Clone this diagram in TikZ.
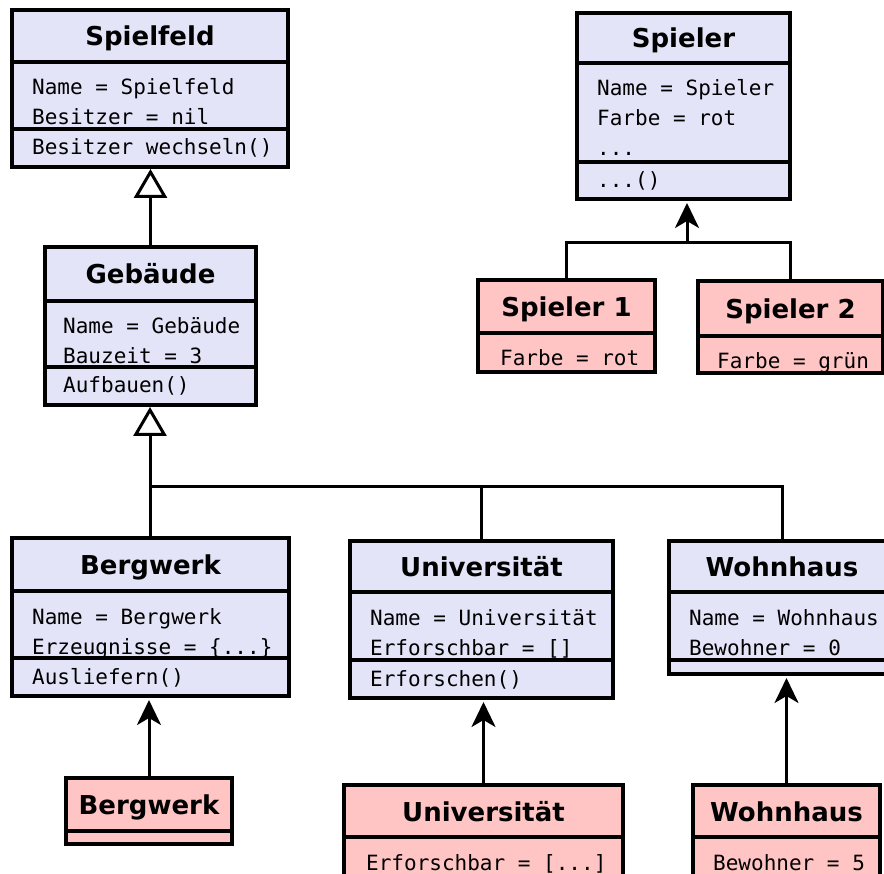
\documentclass[tikz,border=0pt]{standalone}
\usepackage{fontspec}
\usetikzlibrary{positioning, arrows.meta}
\newfontfamily\headfont{DejaVu Sans}
\newfontfamily\codefont{DejaVu Sans Mono}
\definecolor{classblue}{RGB}{228,228,248}
\definecolor{objpink}{RGB}{255,196,196}

\begin{document}
\begin{tikzpicture}[x=1pt, y=-1pt,
  part/.style = {draw, line width=3.5pt, inner sep=0pt, outer sep=0pt, anchor=north west},
  cls/.style = {part, fill=classblue},
  obj/.style = {part, fill=objpink},
  head/.style = {font=\headfont\bfseries\fontsize{26}{30}\selectfont, text height=20pt, text depth=0pt},
  member/.style = {font=\codefont\fontsize{21}{25}\selectfont, inner sep=0pt, anchor=base west},
  link/.style = {line width=3pt},
  inherit/.style = {link, -{Triangle[open, length=29pt, width=33pt]}, shorten >=2pt},
  instance/.style = {link, -{Stealth[length=25pt, width=24pt, inset=7pt]}, shorten >=4pt}]
\useasboundingbox (0,0) rectangle (884,874);
\clip (0,0) rectangle (884,874);

\node[cls, head, minimum width=276pt, minimum height=52pt] (spielfeld) at (12,10) {Spielfeld};
\node[cls, minimum width=276pt, minimum height=67pt, below=0pt of spielfeld] (spielfeld-attr) {};
\node[cls, minimum width=276pt, minimum height=38pt, below=0pt of spielfeld-attr] (spielfeld-op) {};
\node[member] (spielfeld-a1) at ([shift={(20,33)}]spielfeld-attr.north west) {Name = Spielfeld};
\node[member] (spielfeld-a2) at ([shift={(20,63)}]spielfeld-attr.north west) {Besitzer = nil};
\node[member] (spielfeld-m1) at ([shift={(20,26)}]spielfeld-op.north west) {Besitzer wechseln()};

\node[cls, head, minimum width=211pt, minimum height=54pt] (gebaeude) at (45,247) {Gebäude};
\node[cls, minimum width=211pt, minimum height=66pt, below=0pt of gebaeude] (gebaeude-attr) {};
\node[cls, minimum width=211pt, minimum height=38pt, below=0pt of gebaeude-attr] (gebaeude-op) {};
\node[member] (gebaeude-a1) at ([shift={(18,33)}]gebaeude-attr.north west) {Name = Gebäude};
\node[member] (gebaeude-a2) at ([shift={(18,63)}]gebaeude-attr.north west) {Bauzeit = 3};
\node[member] (gebaeude-m1) at ([shift={(18,26)}]gebaeude-op.north west) {Aufbauen()};

\node[cls, head, minimum width=277pt, minimum height=53pt] (bergwerk) at (12,538) {Bergwerk};
\node[cls, minimum width=277pt, minimum height=67pt, below=0pt of bergwerk] (bergwerk-attr) {};
\node[cls, minimum width=277pt, minimum height=38pt, below=0pt of bergwerk-attr] (bergwerk-op) {};
\node[member] (bergwerk-a1) at ([shift={(20,33)}]bergwerk-attr.north west) {Name = Bergwerk};
\node[member] (bergwerk-a2) at ([shift={(20,63)}]bergwerk-attr.north west) {Erzeugnisse = \{...\}};
\node[member] (bergwerk-m1) at ([shift={(20,26)}]bergwerk-op.north west) {Ausliefern()};

\node[cls, head, minimum width=263pt, minimum height=51pt] (universitaet) at (350,541) {Universität};
\node[cls, minimum width=263pt, minimum height=68pt, below=0pt of universitaet] (universitaet-attr) {};
\node[cls, minimum width=263pt, minimum height=38pt, below=0pt of universitaet-attr] (universitaet-op) {};
\node[member] (universitaet-a1) at ([shift={(20,33)}]universitaet-attr.north west) {Name = Universität};
\node[member] (universitaet-a2) at ([shift={(20,63)}]universitaet-attr.north west) {Erforschbar = []};
\node[member] (universitaet-m1) at ([shift={(20,26)}]universitaet-op.north west) {Erforschen()};

\node[cls, head, minimum width=226pt, minimum height=51pt] (wohnhaus) at (669,541) {Wohnhaus};
\node[cls, minimum width=226pt, minimum height=68pt, below=0pt of wohnhaus] (wohnhaus-attr) {};
\node[cls, minimum width=226pt, minimum height=14pt, below=0pt of wohnhaus-attr] (wohnhaus-op) {};
\node[member] (wohnhaus-a1) at ([shift={(20,33)}]wohnhaus-attr.north west) {Name = Wohnhaus};
\node[member] (wohnhaus-a2) at ([shift={(20,63)}]wohnhaus-attr.north west) {Bewohner = 0};

\node[cls, head, minimum width=213pt, minimum height=50pt] (spieler) at (577,13) {Spieler};
\node[cls, minimum width=213pt, minimum height=99pt, below=0pt of spieler] (spieler-attr) {};
\node[cls, minimum width=213pt, minimum height=37pt, below=0pt of spieler-attr] (spieler-op) {};
\node[member] (spieler-a1) at ([shift={(20,33)}]spieler-attr.north west) {Name = Spieler};
\node[member] (spieler-a2) at ([shift={(20,63)}]spieler-attr.north west) {Farbe = rot};
\node[member] (spieler-a3) at ([shift={(20,93)}]spieler-attr.north west) {...};
\node[member] (spieler-m1) at ([shift={(20,26)}]spieler-op.north west) {...()};

\node[obj, head, minimum width=177pt, minimum height=53pt] (spieler1) at (478,280) {Spieler 1};
\node[obj, minimum width=177pt, minimum height=39pt, below=0pt of spieler1] (spieler1-attr) {};
\node[member] (spieler1-a1) at ([shift={(22,33)}]spieler1-attr.north west) {Farbe = rot};

\node[obj, head, minimum width=185pt, minimum height=55pt] (spieler2) at (698,281) {Spieler 2};
\node[obj, minimum width=185pt, minimum height=37pt, below=0pt of spieler2] (spieler2-attr) {};
\node[member] (spieler2-a1) at ([shift={(19,33)}]spieler2-attr.north west) {Farbe = grün};

\node[obj, head, minimum width=166pt, minimum height=53pt] (bergwerk-obj) at (66,778) {Bergwerk};
\node[obj, minimum width=166pt, minimum height=13pt, below=0pt of bergwerk-obj] (bergwerk-obj-attr) {};

\node[obj, head, minimum width=279pt, minimum height=52pt] (universitaet-obj) at (344,785) {Universität};
\node[obj, minimum width=279pt, minimum height=40pt, below=0pt of universitaet-obj] (universitaet-obj-attr) {};
\node[member] (universitaet-obj-a1) at ([shift={(22,33)}]universitaet-obj-attr.north west) {Erforschbar = [...]};

\node[obj, head, minimum width=187pt, minimum height=52pt] (wohnhaus-obj) at (693,785) {Wohnhaus};
\node[obj, minimum width=187pt, minimum height=40pt, below=0pt of wohnhaus-obj] (wohnhaus-obj-attr) {};
\node[member] (wohnhaus-obj-a1) at ([shift={(20,33)}]wohnhaus-obj-attr.north west) {Bewohner = 5};

\coordinate (gebjoin) at (150,487);
\coordinate (spielerjoin) at (687,243);

\draw[inherit] (gebaeude.north) -- (gebaeude.north |- spielfeld-op.south);
\draw[link] (bergwerk.north) |- (gebjoin);
\draw[link] (universitaet.north) |- (gebjoin);
\draw[link] (wohnhaus.north) |- (gebjoin);
\draw[inherit] (gebjoin) -- (gebjoin |- gebaeude-op.south);

\draw[link] (spieler1.north) |- (spielerjoin);
\draw[link] (spieler2.north) |- (spielerjoin);
\draw[instance] (spielerjoin) -- (spielerjoin |- spieler-op.south);

\draw[instance] (bergwerk-obj.north) -- (bergwerk-obj.north |- bergwerk-op.south);
\draw[instance] (universitaet-obj.north) -- (universitaet-obj.north |- universitaet-op.south);
\draw[instance] (wohnhaus-obj.north) -- (wohnhaus-obj.north |- wohnhaus-op.south);
\end{tikzpicture}
\end{document}
